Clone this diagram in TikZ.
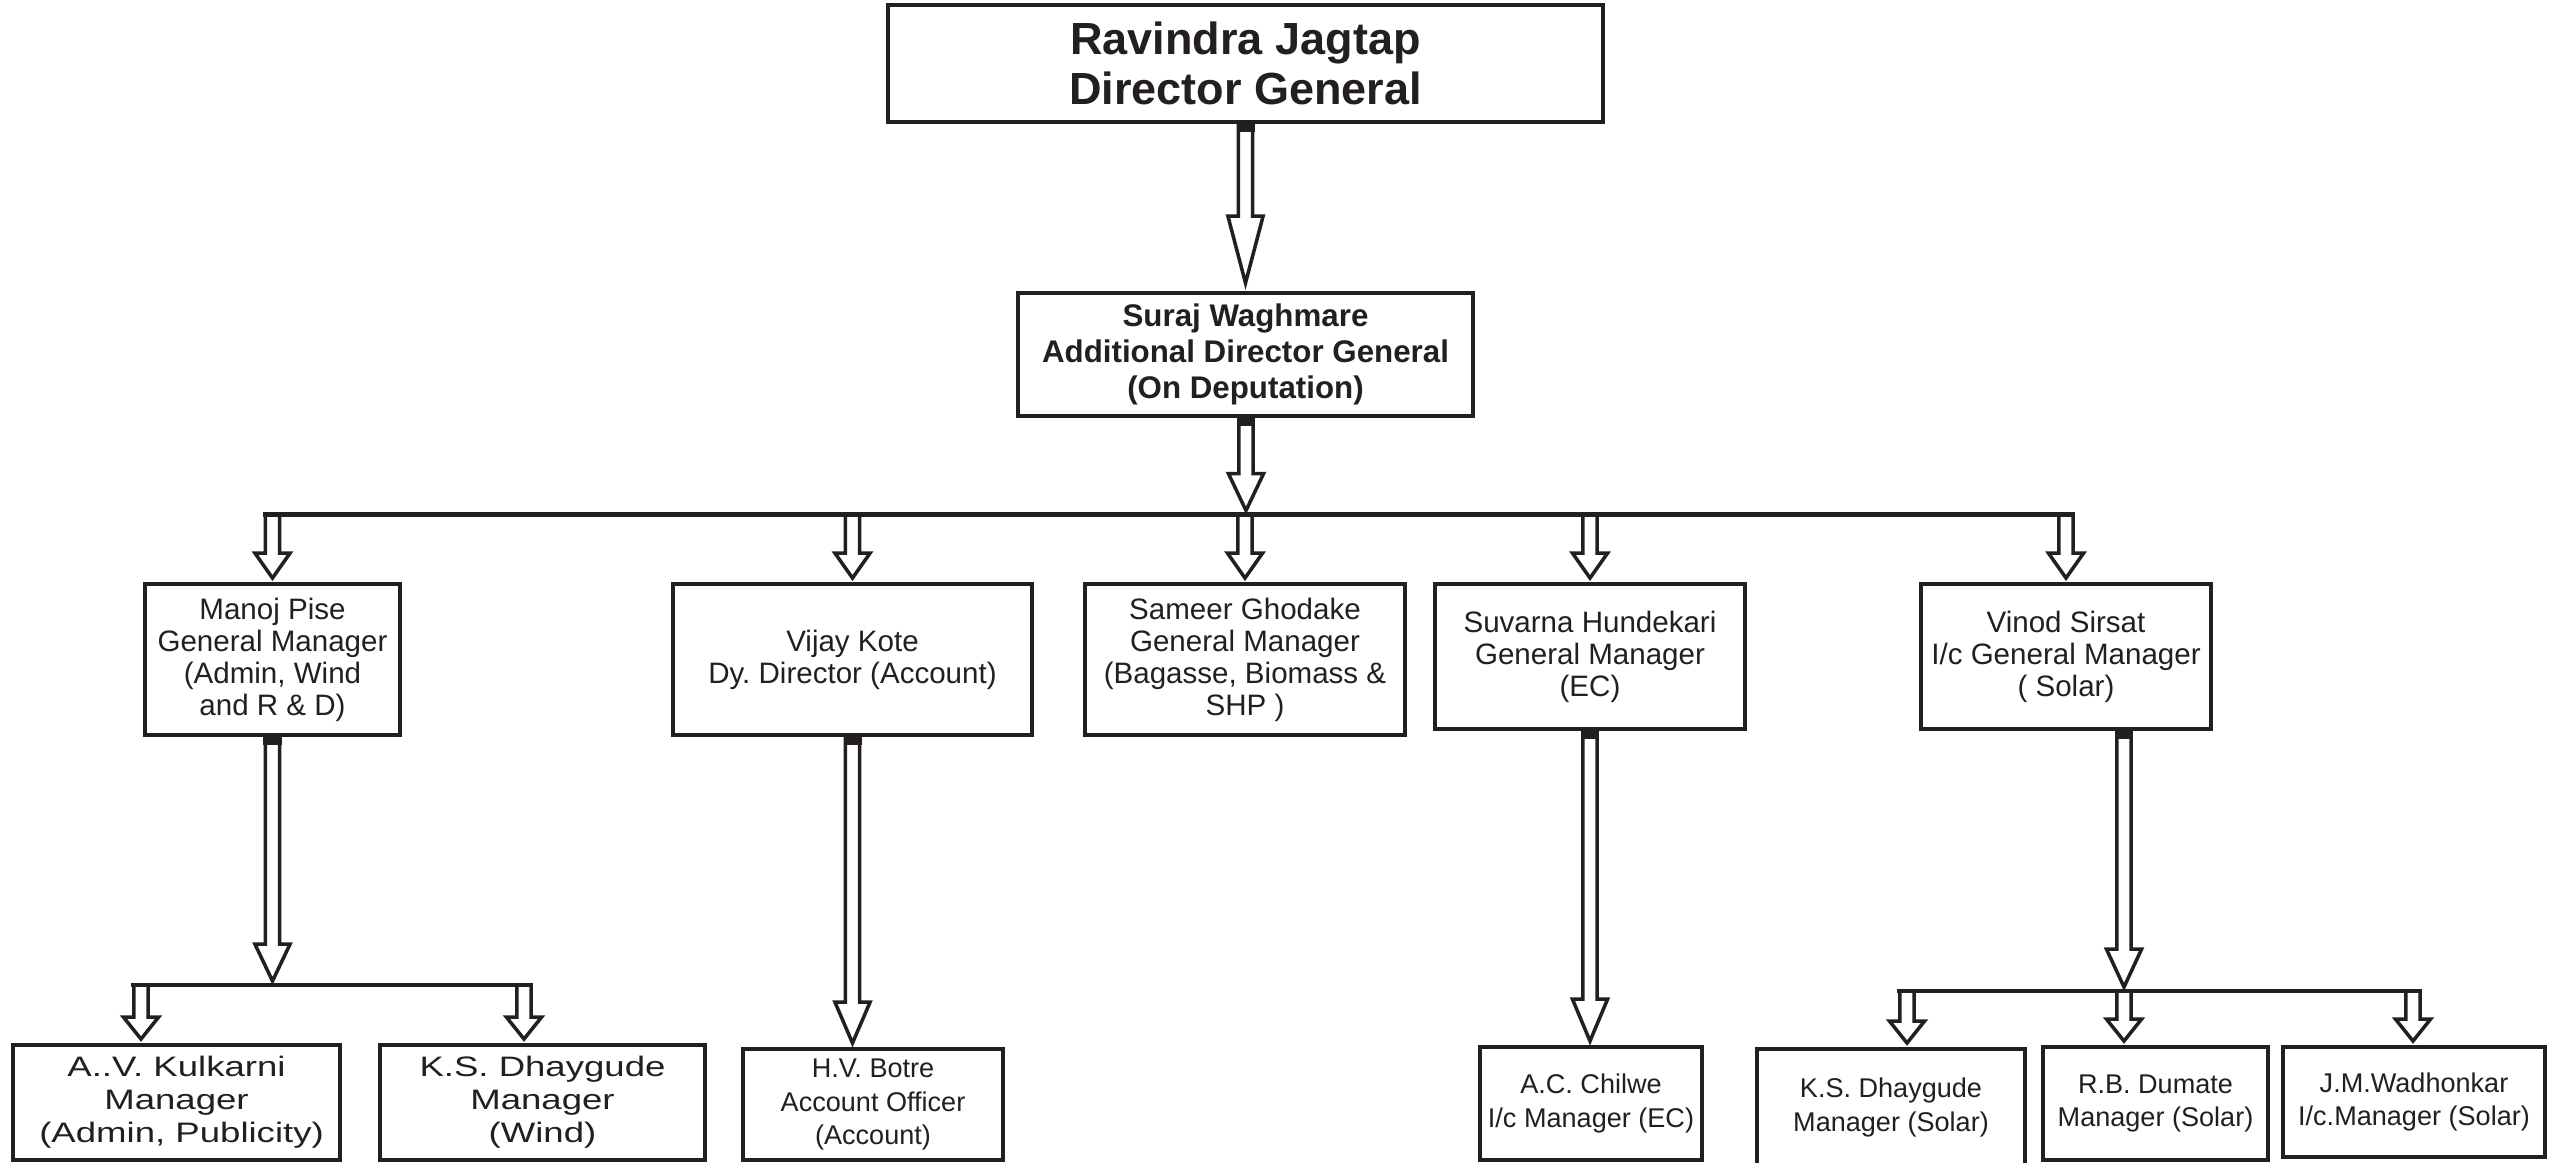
\documentclass[tikz,border=0pt]{standalone}
\usepackage{fontspec}
\setmainfont{Liberation Sans}
\newfontfamily\widesans{Liberation Sans}[FakeStretch=1.3]
\usetikzlibrary{calc}
\usepackage{xcolor}
\definecolor{lineblack}{RGB}{35,31,32}
\frenchspacing

% hollow block arrow, x taken from the end point, #1 = head length (px)
\newcommand{\blockarrow}[3][25]{%
  \filldraw[blk] let \p1=(#2), \p2=(#3) in
    (\x2-0.072cm,\y1) -- (\x2-0.072cm,\y2+0.04cm+#1*0.01cm)
    -- (\x2-0.176cm,\y2+0.04cm+#1*0.01cm) -- (\x2,\y2+0.04cm)
    -- (\x2+0.176cm,\y2+0.04cm+#1*0.01cm) -- (\x2+0.072cm,\y2+0.04cm+#1*0.01cm)
    -- (\x2+0.072cm,\y1) -- cycle;}
% black cap where a shaft leaves a box
\newcommand{\shaftcap}[2]{%
  \fill[lineblack] let \p1=(#1), \p2=(#2) in (\x2-0.09cm,\y1) rectangle (\x2+0.09cm,\y1-0.08cm);}

\begin{document}
\begin{tikzpicture}[
  x=0.01cm, y=-0.01cm,
  box/.style={rectangle, draw=lineblack, fill=white, line width=1.1pt, align=center, inner sep=0pt, text=lineblack},
  headbox/.style={box, font=\bfseries\fontsize{12.8pt}{14.2pt}\selectfont},
  adgbox/.style={box, font=\bfseries\fontsize{8.9pt}{10.2pt}\selectfont},
  gmbox/.style={box, font=\fontsize{8.4pt}{9.1pt}\selectfont},
  widebox/.style={box, font=\widesans\fontsize{8pt}{9.4pt}\selectfont},
  mgrbox/.style={box, font=\fontsize{7.7pt}{9.6pt}\selectfont},
  blk/.style={fill=white, draw=lineblack, line width=1pt},
  bar/.style={draw=lineblack, line width=1.4pt}
]
\useasboundingbox (0,0) rectangle (2557,1162);

\node[headbox, minimum width=7.15cm, minimum height=1.17cm] (dg) at (1245.5,63.5) {Ravindra Jagtap\\Director General};
\node[adgbox, minimum width=4.55cm, minimum height=1.23cm] (adg) at (1245.5,354.5) {Suraj Waghmare\\Additional Director General\\(On Deputation)};

\node[gmbox, minimum width=2.55cm, minimum height=1.51cm] (g1) at (272.5,659.5) {Manoj Pise\\General Manager\\(Admin, Wind\\and R \& D)};
\node[gmbox, minimum width=3.59cm, minimum height=1.51cm] (g2) at (852.5,659.5) {Vijay Kote\\Dy. Director (Account)};
\node[gmbox, minimum width=3.20cm, minimum height=1.51cm] (g3) at (1245,659.5) {Sameer Ghodake\\General Manager\\(Bagasse, Biomass \&\\SHP )};
\node[gmbox, minimum width=3.10cm, minimum height=1.45cm] (g4) at (1590,656.5) {Suvarna Hundekari\\General Manager\\(EC)};
\node[gmbox, minimum width=2.90cm, minimum height=1.45cm] (g5) at (2066,656.5) {Vinod Sirsat\\I/c General Manager\\( Solar)};

\node[widebox, minimum width=3.27cm, minimum height=1.15cm] (s1) at (176.5,1102.5) {A..V. Kulkarni\\Manager\\\ (Admin, Publicity)};
\node[widebox, minimum width=3.25cm, minimum height=1.15cm] (s2) at (542.5,1102.5) {K.S. Dhaygude\\Manager\\(Wind)};
\node[mgrbox, minimum width=2.60cm, minimum height=1.11cm] (s3) at (873,1104.5) {H.V. Botre\\Account Officer\\(Account)};
\node[mgrbox, minimum width=2.22cm, minimum height=1.13cm] (s4) at (1591,1103.5) {A.C. Chilwe\\I/c Manager (EC)};
\node[mgrbox, minimum width=2.68cm, minimum height=1.17cm] (s5) at (1891,1107.5) {K.S. Dhaygude\\Manager (Solar)};
\node[mgrbox, minimum width=2.25cm, minimum height=1.13cm] (s6) at (2155.5,1103.5) {R.B. Dumate\\Manager (Solar)};
\node[mgrbox, minimum width=2.62cm, minimum height=1.10cm] (s7) at (2414,1102) {J.M.Wadhonkar\\I/c.Manager (Solar)};

% bars
\coordinate (bar) at (1246,514.5);
\coordinate (barL) at (263,514.5);
\coordinate (barR) at (2075,514.5);
\coordinate (sub1) at (272.5,985);
\coordinate (sub1L) at (131,985);
\coordinate (sub1R) at (533,985);
\coordinate (k1) at (141,985);
\coordinate (k2) at (524,985);
\coordinate (sub2) at (2124,991);
\coordinate (sub2L) at (1897,991);
\coordinate (sub2R) at (2422,991);
\coordinate (k3) at (1907,991);
\coordinate (k5) at (2413,991);

\blockarrow[67]{dg.south}{$(adg.north)+(0,-4)$}
\shaftcap{dg.south}{adg.north}
\blockarrow[37]{adg.south}{bar}
\shaftcap{adg.south}{bar}
\foreach \g in {g1,g2,g3,g4,g5}
  \blockarrow{bar}{\g.north};
\blockarrow[37]{g1.south}{sub1}
\shaftcap{g1.south}{sub1}
\blockarrow[22]{sub1}{k1 |- s1.north}
\blockarrow[22]{sub1}{k2 |- s2.north}
\blockarrow[41]{g2.south}{g2 |- s3.north}
\shaftcap{g2.south}{g2 |- s3.north}
\blockarrow[42]{g4.south}{g4 |- s4.north}
\shaftcap{g4.south}{g4 |- s4.north}
\blockarrow[38]{g5.south -| sub2}{sub2}
\shaftcap{g5.south -| sub2}{sub2}
\blockarrow[22]{sub2}{k3 |- s5.north}
\blockarrow[22]{sub2}{sub2 |- s6.north}
\blockarrow[22]{sub2}{k5 |- s7.north}

\draw[bar] (barL) -- (barR);
\draw[bar] (sub1L) -- (sub1R);
\draw[bar] (sub2L) -- (sub2R);
\end{tikzpicture}
\end{document}
